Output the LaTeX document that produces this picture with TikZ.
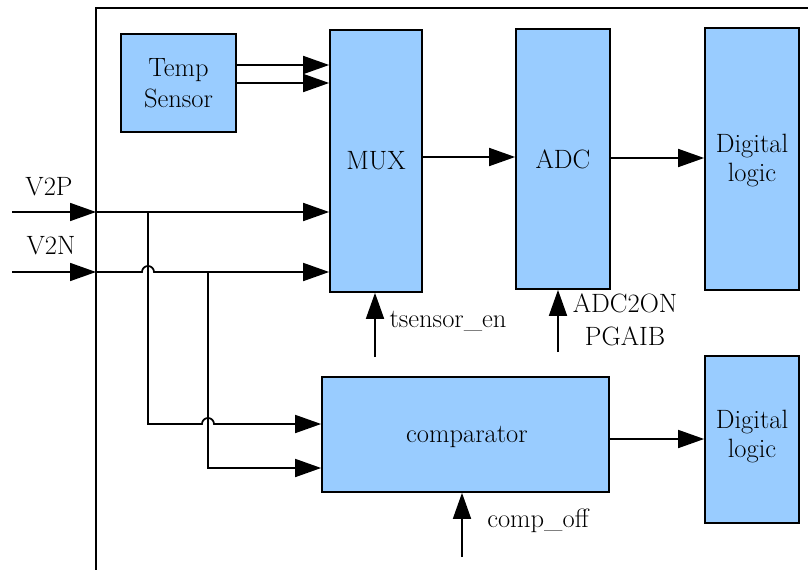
\documentclass[tikz,border=0pt]{standalone}
\usetikzlibrary{arrows.meta}
\definecolor{boxblue}{HTML}{99CCFF}
\begin{document}
\begin{tikzpicture}[x=1pt,y=-1pt,
  every node/.style={font=\rmfamily\fontsize{26.5}{27}\selectfont, inner sep=0pt},
  block/.style={draw, line width=1.7pt, fill=boxblue, align=center},
  arr/.style={-{Triangle[length=26pt,width=18pt]}, line width=1.7pt}]
\useasboundingbox (0,0) rectangle (808,570);
\draw[line width=2.8pt] (808,8) -- (96,8) -- (96,570);
% blocks
\node[block, minimum width=115pt, minimum height=98pt] (temp) at (178.5,83) {Temp\\[4pt]Sensor};
\node[block, minimum width=92pt, minimum height=262pt] (mux) at (376,161) {MUX};
\node[block, minimum width=94pt, minimum height=260pt] (adc) at (563,159) {ADC};
\node[block, minimum width=94pt, minimum height=262pt] (dl1) at (752,159) {};
\node (ldl1) at (752,161) [align=center] {Digital\\[2pt]logic};
\node[block, minimum width=287pt, minimum height=115pt] (comp) at (465.5,434.5) {};
\node (lcomp) at (467,437) {comparator};
\node[block, minimum width=94pt, minimum height=167pt] (dl2) at (752,439.5) {};
\node (ldl2) at (752,437) [align=center] {Digital\\[2pt]logic};
% coordinates
\coordinate (t1) at (0,65);
\coordinate (ya) at (0,157);
\coordinate (yb) at (0,158);
\coordinate (yc) at (0,439);
\coordinate (in1) at (12,212);
\coordinate (j1) at (96,212);
\coordinate (in2) at (12,272);
\coordinate (j2) at (96,272);
\coordinate (b1) at (148,212);
\coordinate (b1d) at (148,424);
\coordinate (b2) at (208,272);
\coordinate (b2d) at (208,468);
\coordinate (ts) at (375,357);
\coordinate (ao) at (558,352);
\coordinate (co) at (462,557);
% connectors
\draw[arr] (temp.east |- t1) -- (mux.west |- t1);
\draw[arr] (temp.east) -- (mux.west |- temp.east);
\draw[arr] (mux.east |- ya) -- (adc.west |- ya);
\draw[arr] (adc.east |- yb) -- (dl1.west |- yb);
\draw[arr] (in1) -- (j1);
\draw[arr] (j1) -- (mux.west |- j1);
\draw[arr] (in2) -- (j2);
\draw[arr] (j2) -- (142,272) arc[start angle=180, end angle=0, radius=6pt] -- (mux.west |- j2);
\draw[arr] (b1) -- (b1d) -- (202,424) arc[start angle=180, end angle=0, radius=6pt] -- (comp.west |- b1d);
\draw[arr] (b2) -- (b2d) -- (comp.west |- b2d);
\draw[arr] (ts) -- (ts |- mux.south);
\draw[arr] (ao) -- (ao |- adc.south);
\draw[arr] (co) -- (co |- comp.south);
\draw[arr] (comp.east |- yc) -- (dl2.west |- yc);
% labels
\node (lv2p) at (49,187) {V2P};
\node (lv2n) at (51,246) {V2N};
\node (lts) at (448,321) {tsensor\_en};
\node[align=center] (lao) at (625,320) {ADC2ON\\[6pt]PGAIB};
\node (lco) at (538,521) {comp\_off};
\end{tikzpicture}
\end{document}
